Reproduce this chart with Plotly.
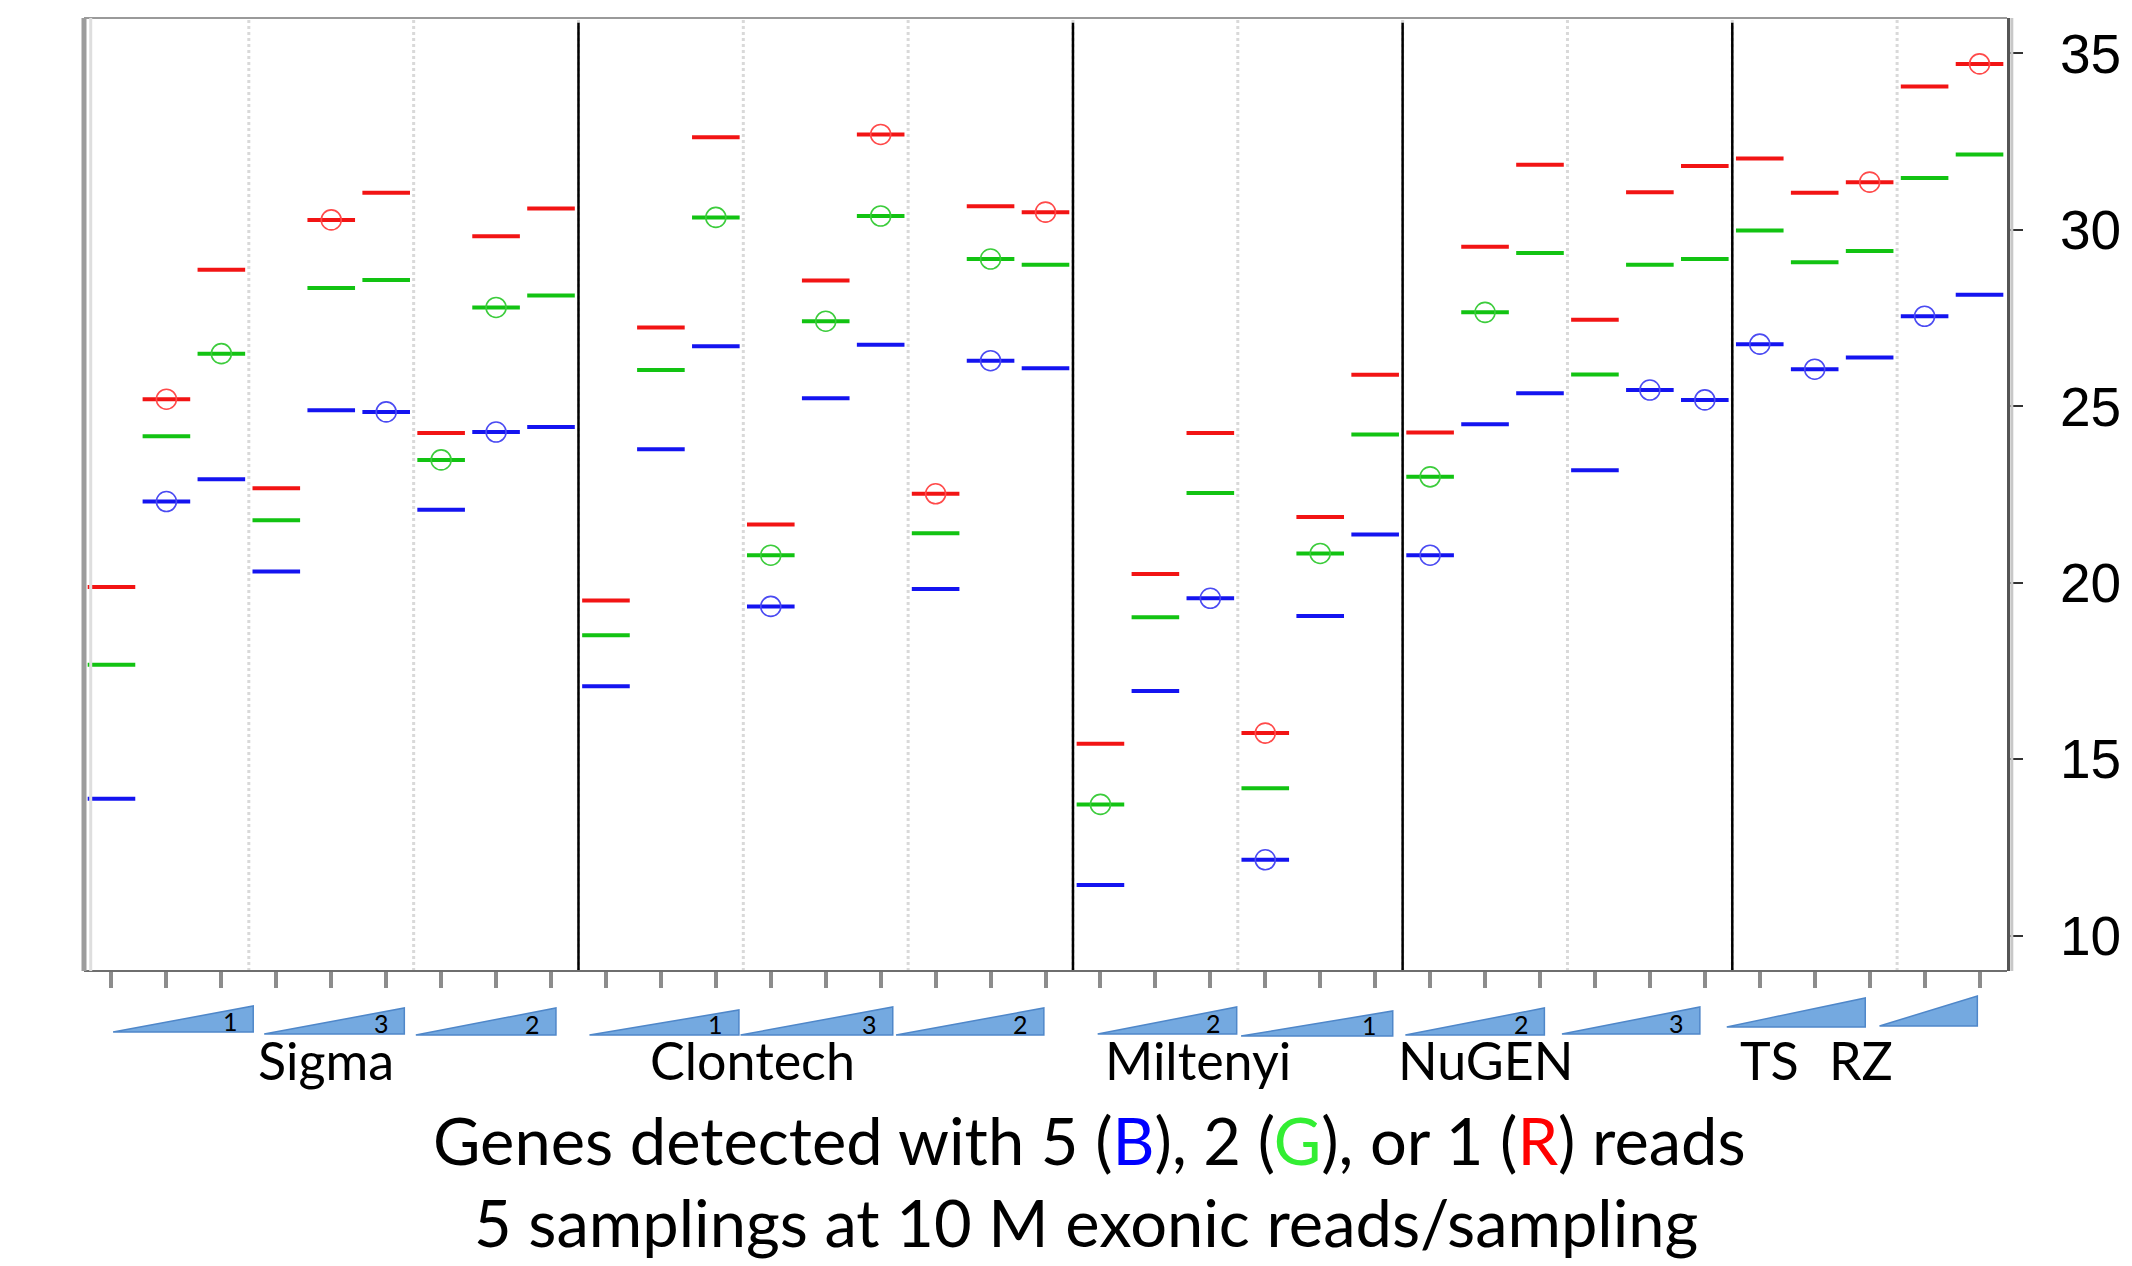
import plotly.graph_objects as go

# ---------------- data ----------------
categories = list(range(35))
blue = [13.88, 22.30, 22.93, 20.32, 24.89, 24.84, 22.07, 24.27, 24.41,
        17.07, 23.78, 26.70, 19.33, 25.23, 26.74, 19.82, 26.29, 26.08,
        11.44, 16.93, 19.56, 12.15, 19.06, 21.37,
        20.78, 24.49, 25.37, 23.19, 25.46, 25.18,
        26.76, 26.05, 26.38, 27.55, 28.16]
green = [17.68, 24.15, 26.49, 21.77, 28.35, 28.58, 23.48, 27.80, 28.14,
         18.51, 26.03, 30.35, 20.78, 27.41, 30.39, 21.40, 29.17, 29.01,
         13.72, 19.02, 22.54, 14.18, 20.83, 24.20,
         23.00, 27.66, 29.34, 25.90, 29.01, 29.17,
         29.98, 29.08, 29.40, 31.47, 32.13]
red = [19.88, 25.20, 28.87, 22.68, 30.28, 31.05, 24.24, 29.82, 30.60,
       19.50, 27.23, 32.62, 21.65, 28.56, 32.70, 22.52, 30.67, 30.50,
       15.44, 20.25, 24.24, 15.74, 21.86, 25.89,
       24.26, 29.52, 31.84, 27.45, 31.06, 31.81,
       32.02, 31.05, 31.35, 34.06, 34.70]
blue_circled = [1, 5, 7, 12, 16, 20, 21, 24, 28, 29, 30, 31, 33]
green_circled = [2, 6, 7, 11, 12, 13, 14, 16, 18, 22, 24, 25]
red_circled = [1, 4, 14, 15, 17, 21, 32, 34]

y_tickvals = [10, 15, 20, 25, 30, 35]
y_ticktext = ["10 K", "15 K", "20 K", "25 K", "30 K", "35 K"]

panel_bounds = [8.5, 17.5, 23.5, 29.5]
subgroup_bounds = [2.5, 5.5, 11.5, 14.5, 20.5, 26.5, 32.5]

group_names = ["Sigma", "Clontech", "Miltenyi", "NuGEN", "TS", "RZ"]
group_pos = [3.90, 11.66, 19.77, 25.01, 30.18, 31.84]

wedge_start = [0.03, 2.78, 5.54, 8.70, 11.45, 14.28, 17.95, 20.56, 23.55, 26.40, 29.40, 32.18]
wedge_end = [2.58, 5.33, 8.09, 11.42, 14.22, 16.97, 20.48, 23.32, 26.08, 28.91, 31.92, 33.96]
wedge_text = ["1", "3", "2", "1", "3", "2", "2", "1", "2", "3", "", ""]
wedge_bottom = [1032, 1034, 1035, 1035, 1035, 1035, 1034, 1036, 1035, 1034, 1027, 1026]
wedge_top = [1006, 1008, 1008, 1010, 1007, 1008, 1007, 1011, 1008, 1007, 998, 996]

# ---------------- layout geometry ----------------
W, H = 2132, 1266
PL, PR, PT, PB = 84, 2007, 18, 971
PH = PB - PT


def py(ypix):
    return (PB - ypix) / PH


RED, GREEN, BLUE = "#f21414", "#12c312", "#1414f0"
fig = go.Figure()

for vals, col in [(blue, BLUE), (green, GREEN), (red, RED)]:
    fig.add_trace(go.Scatter(
        x=categories, y=vals, mode="markers",
        marker=dict(symbol="line-ew", size=34, color=col,
                    line=dict(color=col, width=4)),
        showlegend=False, hoverinfo="x+y"))

for vals, idx, col in [(blue, blue_circled, "#4a4af2"),
                       (green, green_circled, "#3ccc3c"),
                       (red, red_circled, "#ff4a4a")]:
    fig.add_trace(go.Scatter(
        x=idx, y=[vals[i] for i in idx], mode="markers",
        marker=dict(symbol="circle-open", size=20, color=col,
                    line=dict(color=col, width=1.6)),
        showlegend=False, hoverinfo="skip"))

shapes = []
for b in subgroup_bounds + panel_bounds:
    shapes.append(dict(type="line", xref="x", yref="paper", x0=b, x1=b, y0=0, y1=1,
                       line=dict(color="#d9d9d9", width=3, dash="dot"), layer="below"))
for b in panel_bounds:
    shapes.append(dict(type="line", xref="x", yref="paper", x0=b, x1=b, y0=0, y1=0.995,
                       line=dict(color="black", width=2.5)))
# frame
shapes.append(dict(type="line", xref="paper", yref="paper", x0=0, x1=1, y0=1, y1=1,
                   line=dict(color="#9a9a9a", width=2)))
shapes.append(dict(type="line", xref="paper", yref="paper", x0=0, x1=1, y0=0, y1=0,
                   line=dict(color="#6e6e6e", width=2)))
shapes.append(dict(type="line", xref="paper", yref="paper", x0=0, x1=0, y0=0, y1=1,
                   line=dict(color="#9c9c9c", width=5)))
shapes.append(dict(type="line", xref="paper", yref="paper", x0=0.0035, x1=0.0035, y0=0, y1=1,
                   line=dict(color="#dedede", width=3)))
shapes.append(dict(type="line", xref="paper", yref="paper", x0=1.0025, x1=1.0025, y0=0, y1=1,
                   line=dict(color="#c8c8c8", width=3)))

annotations = []
for x0, x1, t, yb, yt in zip(wedge_start, wedge_end, wedge_text, wedge_bottom, wedge_top):
    shapes.append(dict(type="path", xref="x", yref="paper",
                       path=f"M {x0},{py(yb)} L {x1},{py(yt)} L {x1},{py(yb)} Z",
                       fillcolor="#74a9e0", line=dict(color="#4f87c9", width=1.5)))
    if t:
        annotations.append(dict(x=x1 - 0.42, y=py(yb - 11), xref="x", yref="paper",
                                text=t, showarrow=False, xanchor="center", yanchor="middle",
                                font=dict(family="Lato", size=25, color="black")))

for name, pos in zip(group_names, group_pos):
    annotations.append(dict(x=pos, y=py(1060), xref="x", yref="paper", text=name,
                            showarrow=False, xanchor="center", yanchor="middle",
                            font=dict(family="Lato", size=52, color="black")))

annotations.append(dict(
    x=(1089 - PL) / (PR - PL), y=py(1140), xref="paper", yref="paper",
    text='Genes detected with 5 (<span style="color:#0000ff">B</span>), 2 '
         '(<span style="color:#33ee33">G</span>), or 1 (<span style="color:#ff0000">R</span>) reads',
    showarrow=False, xanchor="center", yanchor="middle",
    font=dict(family="Lato", size=65, color="black")))
annotations.append(dict(
    x=(1086 - PL) / (PR - PL), y=py(1222), xref="paper", yref="paper",
    text="5 samplings at 10 M exonic reads/sampling",
    showarrow=False, xanchor="center", yanchor="middle",
    font=dict(family="Lato", size=65, color="black")))

fig.update_layout(
    width=W, height=H,
    margin=dict(l=PL, r=W - PR, t=PT, b=H - PB, autoexpand=False),
    paper_bgcolor="white", plot_bgcolor="white",
    shapes=shapes, annotations=annotations,
    xaxis=dict(range=[-0.5, 34.5], tickmode="array", tickvals=categories,
               showticklabels=False, ticks="outside", ticklen=16, tickwidth=4,
               tickcolor="#8c8c8c", showgrid=False, zeroline=False, showline=False,
               automargin=False, fixedrange=True),
    yaxis=dict(range=[9, 36], side="right", tickmode="array", tickvals=y_tickvals,
               ticktext=y_ticktext, ticks="outside", ticklen=13, tickwidth=2,
               tickcolor="#333", showline=True, linecolor="#555", linewidth=3,
               showgrid=False, zeroline=False, automargin=False,
               tickfont=dict(family="Liberation Sans", size=55, color="black"),
               ticklabelstandoff=26, fixedrange=True),
)

fig.write_html("out.html")
